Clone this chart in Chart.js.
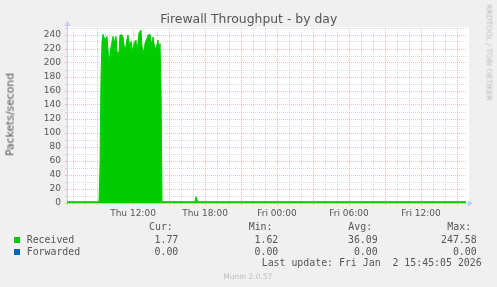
<!DOCTYPE html>
<html>
<head>
<meta charset="utf-8">
<script src="https://cdn.jsdelivr.net/npm/chart.js@4"></script>
<style>
  html, body { margin: 0; padding: 0; background: #F0F0F0; }
  #wrap { position: relative; width: 497px; height: 287px; overflow: hidden; background: #F0F0F0; }
  #c { position: absolute; left: 0; top: 0; }
  .t { position: absolute; white-space: pre; line-height: 1.2; }
  .sans { font-family: "DejaVu Sans", sans-serif; }
  .mono { font-family: "DejaVu Sans Mono", monospace; font-size: 9.9px; color: #555; }
  .sq { position: absolute; width: 6px; height: 6px; }
</style>
</head>
<body>
<div id="wrap">
  <canvas id="c" width="497" height="287"></canvas>
</div>
<script>
// ---- data (minutes since Thu 00:00) ----
const receivedMinutes = [390, 550, 555, 560, 565, 570, 580, 590, 595, 600,
  610, 620, 625, 635, 640, 650, 655, 665, 670, 680,
  690, 695, 705, 710, 720, 725, 735, 740, 750, 760,
  765, 775, 780, 790, 795, 805, 815, 820, 830, 840,
  845, 850, 855, 860, 865, 1030, 1035, 1040, 1045, 2385];
const receivedValues = [1.7, 1.7, 50, 180, 230, 241, 233, 238, 219, 200,
  223, 238, 228, 238, 216, 214, 240, 240, 237, 216,
  234, 240, 221, 231, 214, 228, 233, 214, 243, 247,
  224, 214, 228, 235, 240, 241, 224, 237, 219, 226,
  233, 214, 228, 165, 1.8, 1.7, 9, 5, 1.7, 1.77];
const forwardedMinutes = [390, 2385];
const forwardedValues = [0, 0];

const xTickMinutes = [720, 1080, 1440, 1800, 2160];
const xTickLabels = ['Thu 12:00', 'Thu 18:00', 'Fri 00:00', 'Fri 06:00', 'Fri 12:00'];
const yTickValues = [0, 20, 40, 60, 80, 100, 120, 140, 160, 180, 200, 220, 240];
const yTickLabels = ['0', '20', '40', '60', '80', '100', '120', '140', '160', '180', '200', '220', '240'];

const seriesNames = ['Received', 'Forwarded'];
const seriesColors = ['#00CC00', '#0066B3'];
const statHeaders = ['Cur:', 'Min:', 'Avg:', 'Max:'];
const receivedStats = ['1.77', '1.62', '36.09', '247.58'];
const forwardedStats = ['0.00', '0.00', '0.00', '0.00'];
const titleText = 'Firewall Throughput - by day';
const yTitleText = 'Packets/second';
const lastUpdateText = 'Last update: Fri Jan  2 15:45:05 2026';
const footerText = 'Munin 2.0.57';
const sideText = 'RRDTOOL / TOBI OETIKER';

// ---- text overlays ----
const wrap = document.getElementById('wrap');
function addText(txt, cls, style) {
  const d = document.createElement('div');
  d.className = 't ' + cls;
  d.textContent = txt;
  Object.assign(d.style, style);
  wrap.appendChild(d);
  return d;
}
addText(titleText, 'sans', { left: '248.8px', top: '11.9px', fontSize: '12.4px', color: '#555', transform: 'translateX(-50%)' });
addText(yTitleText, 'sans', { left: '-40px', top: '108px', width: '100px', height: '13px', lineHeight: '13px', textAlign: 'center', fontSize: '10.8px', color: '#555', transform: 'rotate(-90deg)' });
addText(sideText, 'sans', { left: '439px', top: '48px', width: '100px', height: '9px', lineHeight: '9px', textAlign: 'center', fontSize: '7.5px', color: '#bbb', transform: 'rotate(90deg)' });

const headerLeft = [149, 248.7, 348.3, 447.3];
const valueRight = [178.3, 278.3, 377.7, 476.7];
statHeaders.forEach((h, i) => addText(h, 'mono', { left: headerLeft[i] + 'px', top: '221.4px' }));
const rowTops = [233.8, 245.8];
const rowStats = [receivedStats, forwardedStats];
seriesNames.forEach((n, r) => {
  const sq = document.createElement('div');
  sq.className = 'sq';
  sq.style.left = '14px';
  sq.style.top = (rowTops[r] + 3.2) + 'px';
  sq.style.background = seriesColors[r];
  wrap.appendChild(sq);
  addText(n, 'mono', { left: '26.7px', top: rowTops[r] + 'px' });
  rowStats[r].forEach((v, i) => addText(v, 'mono', { right: (497 - valueRight[i]) + 'px', top: rowTops[r] + 'px' }));
});
addText(lastUpdateText, 'mono', { left: '261.7px', top: '257.4px' });
addText(footerText, 'sans', { left: '223.3px', top: '271.8px', fontSize: '7.5px', color: '#bbb' });

// ---- chart ----
const RED = 'rgba(240,110,110,0.45)';
const GRAY = 'rgba(160,160,160,0.38)';
const AXIS = '#C4CCF4';

const framePlugin = {
  id: 'frame',
  beforeDraw(chart) {
    const a = chart.chartArea, ctx = chart.ctx;
    ctx.save();
    ctx.fillStyle = '#FFFFFF';
    ctx.fillRect(a.left, a.top - 1, a.right - a.left + 3, a.bottom - a.top + 1);
    ctx.restore();
  },
  beforeDatasetsDraw(chart) {
    const a = chart.chartArea, ctx = chart.ctx;
    ctx.save();
    ctx.strokeStyle = AXIS;
    ctx.fillStyle = AXIS;
    ctx.lineWidth = 1;
    ctx.beginPath();
    ctx.moveTo(a.left + 0.5, a.bottom + 2);
    ctx.lineTo(a.left + 0.5, a.top - 2);
    ctx.moveTo(a.left - 2, a.bottom + 0.5);
    ctx.lineTo(a.right + 2, a.bottom + 0.5);
    ctx.stroke();
    ctx.beginPath();
    ctx.moveTo(a.left + 0.5, a.top - 7);
    ctx.lineTo(a.left - 2.5, a.top - 2);
    ctx.lineTo(a.left + 3.5, a.top - 2);
    ctx.closePath();
    ctx.fill();
    ctx.beginPath();
    ctx.moveTo(a.right + 7, a.bottom + 0.5);
    ctx.lineTo(a.right + 2, a.bottom - 2.5);
    ctx.lineTo(a.right + 2, a.bottom + 3.5);
    ctx.closePath();
    ctx.fill();
    ctx.restore();
  }
};

const tickFont = { family: 'DejaVu Sans', size: 9 };

new Chart(document.getElementById('c'), {
  type: 'line',
  data: {
    datasets: [
      {
        label: seriesNames[0],
        data: receivedMinutes.map((m, i) => ({ x: m, y: receivedValues[i] })),
        borderColor: seriesColors[0],
        backgroundColor: seriesColors[0],
        borderWidth: 1,
        fill: 'origin',
        pointRadius: 0,
        tension: 0,
        order: 1
      },
      {
        label: seriesNames[1],
        data: forwardedMinutes.map((m, i) => ({ x: m, y: forwardedValues[i] })),
        borderColor: seriesColors[1],
        borderWidth: 1,
        fill: false,
        pointRadius: 0,
        tension: 0,
        order: 2
      }
    ]
  },
  options: {
    responsive: false,
    animation: false,
    devicePixelRatio: 1,
    layout: { padding: { left: 0, right: 31, top: 28, bottom: 64 } },
    plugins: { legend: { display: false }, tooltip: { enabled: false }, title: { display: false } },
    scales: {
      x: {
        type: 'linear',
        min: 390,
        max: 2385,
        afterFit(scale) { scale.height = 20; },
        afterBuildTicks(scale) {
          const t = [];
          for (let m = 420; m <= 2385; m += 60) t.push({ value: m });
          scale.ticks = t;
        },
        ticks: {
          autoSkip: false,
          maxRotation: 0,
          padding: 3,
          color: '#555',
          font: tickFont,
          callback(value) {
            const i = xTickMinutes.indexOf(value);
            return i >= 0 ? xTickLabels[i] : '';
          }
        },
        grid: {
          color: (c) => (c.tick && c.tick.value % 180 === 0) ? RED : GRAY,
          tickColor: (c) => (c.tick && c.tick.value % 180 === 0) ? RED : GRAY,
          lineWidth: 1,
          tickLength: 2,
          tickBorderDash: []
        },
        border: { display: false, dash: [1, 1] }
      },
      y: {
        min: 0,
        max: 250,
        afterFit(scale) { scale.width = 67; },
        afterBuildTicks(scale) {
          const t = [];
          for (let v = 0; v <= 250; v += 10) t.push({ value: v });
          scale.ticks = t;
        },
        ticks: {
          autoSkip: false,
          padding: 4,
          color: '#555',
          font: tickFont,
          callback(value) {
            const i = yTickValues.indexOf(value);
            return i >= 0 ? yTickLabels[i] : '';
          }
        },
        grid: {
          color: (c) => (c.tick && c.tick.value % 20 === 0) ? RED : GRAY,
          tickColor: (c) => (c.tick && c.tick.value % 20 === 0) ? RED : GRAY,
          lineWidth: 1,
          tickLength: 2,
          tickBorderDash: []
        },
        border: { display: false, dash: [1, 1] }
      }
    }
  },
  plugins: [framePlugin]
});
</script>
</body>
</html>
